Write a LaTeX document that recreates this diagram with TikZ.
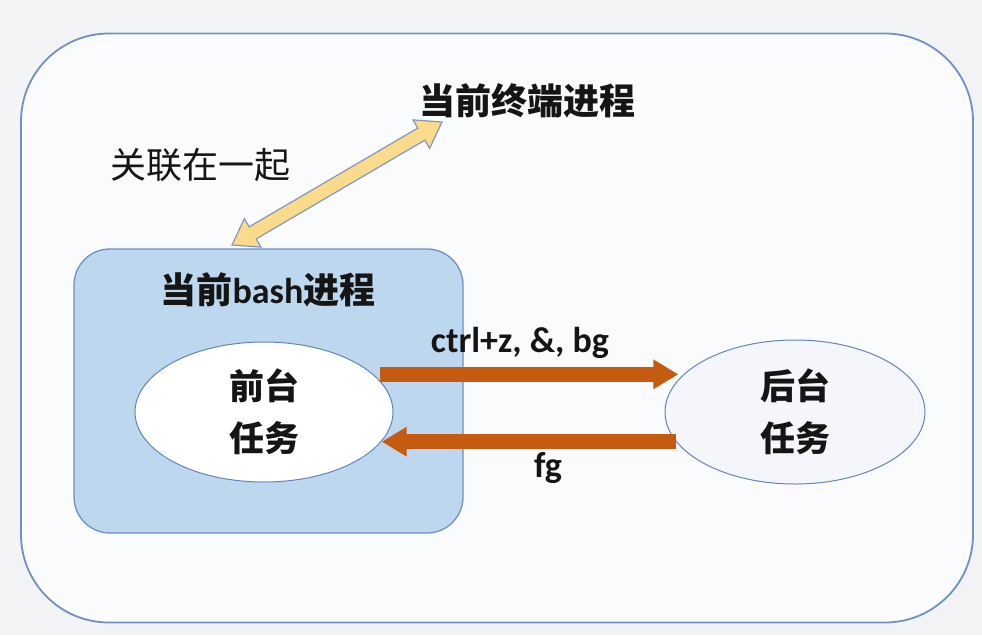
\documentclass[tikz,border=0pt]{standalone}
\usepackage{fontspec}
\setmainfont{Carlito}
\newfontfamily\cjk{Noto Sans CJK SC}
\usetikzlibrary{calc,arrows.meta,shapes.geometric}
\definecolor{bgc}{HTML}{F2F3F5}
\definecolor{outerfill}{HTML}{FAFBFD}
\definecolor{outerline}{HTML}{7390C3}
\definecolor{bashfill}{HTML}{BDD7EE}
\definecolor{bashline}{HTML}{6F8FC6}
\definecolor{elline}{HTML}{6484BE}
\definecolor{backfill}{HTML}{F5F6FB}
\definecolor{orng}{HTML}{C55A11}
\definecolor{yel}{HTML}{FADB8C}
\definecolor{yelline}{HTML}{8397BC}
\definecolor{txt}{HTML}{151515}
\tikzset{
  outerbox/.style={draw=outerline, line width=1.8pt, fill=outerfill, rounded corners=88pt,
    minimum width=952pt, minimum height=589pt, inner sep=0pt},
  bashbox/.style={draw=bashline, line width=1.3pt, fill=bashfill, rounded corners=36pt,
    minimum width=389pt, minimum height=284pt, inner sep=0pt},
  task/.style={ellipse, draw=elline, line width=1pt, inner sep=0pt, align=center,
    text=txt, font=\cjk\bfseries\fontsize{35}{52}\selectfont},
  bigcn/.style={text=txt, inner sep=0pt, font=\cjk\bfseries\fontsize{36}{44}\selectfont},
  plaincn/.style={text=txt, inner sep=0pt, font=\cjk\fontsize{36}{44}\selectfont},
  lbl/.style={text=txt, inner sep=0pt, font=\bfseries\fontsize{36}{42}\selectfont},
  orarrow/.style={draw=orng, line width=15pt, -{Triangle[length=25pt,width=28pt]}},
  yelarrow/.style={fill=yel, draw=yelline, line width=1.2pt, line join=miter}
}
\begin{document}
\begin{tikzpicture}[x=1pt,y=1pt]
\useasboundingbox (0,0) rectangle (982,-635);
\fill[bgc] (0,0) rectangle (982,-635);
\node[outerbox] (outer) at (497,-328) {};
\node[bashbox] (bash) at (268.5,-391) {};
\node[bigcn] (bashlabel) at (268,-290) {当前{\fontspec{Carlito}\bfseries\fontsize{36}{44}\selectfont bash}进程};
\node[task, fill=white, minimum width=258pt, minimum height=140pt] (front) at (264,-412) {前台\\任务};
\node[task, fill=backfill, minimum width=260pt, minimum height=144pt] (back) at (795,-412) {后台\\任务};
\node[bigcn] (term) at (527,-101) {当前终端进程};
\node[plaincn] (assoc) at (200,-165) {关联在一起};
% yellow double arrow
\coordinate (A) at (232,-245);
\coordinate (B) at (442,-122);
\path[yelarrow] (A)
  -- ($(A)!24pt!(B)!16.5pt!-90:(B)$)
  -- ($(A)!24pt!(B)!7pt!-90:(B)$)
  -- ($(B)!24pt!(A)!7pt!90:(A)$)
  -- ($(B)!24pt!(A)!16.5pt!90:(A)$)
  -- (B)
  -- ($(B)!24pt!(A)!16.5pt!-90:(A)$)
  -- ($(B)!24pt!(A)!7pt!-90:(A)$)
  -- ($(A)!24pt!(B)!7pt!90:(B)$)
  -- ($(A)!24pt!(B)!16.5pt!90:(B)$)
  -- cycle;
% orange arrows
\draw[orarrow, shorten >=4pt, shorten <=7pt] (front.19) -- (front.19 -| back.162);
\draw[orarrow] (back.194) -- (back.194 -| front.-14);
\node[lbl] (l1) at (520,-343) {ctrl+z, \&, bg};
\node[lbl] (l2) at (548,-468) {fg};
\end{tikzpicture}
\end{document}
